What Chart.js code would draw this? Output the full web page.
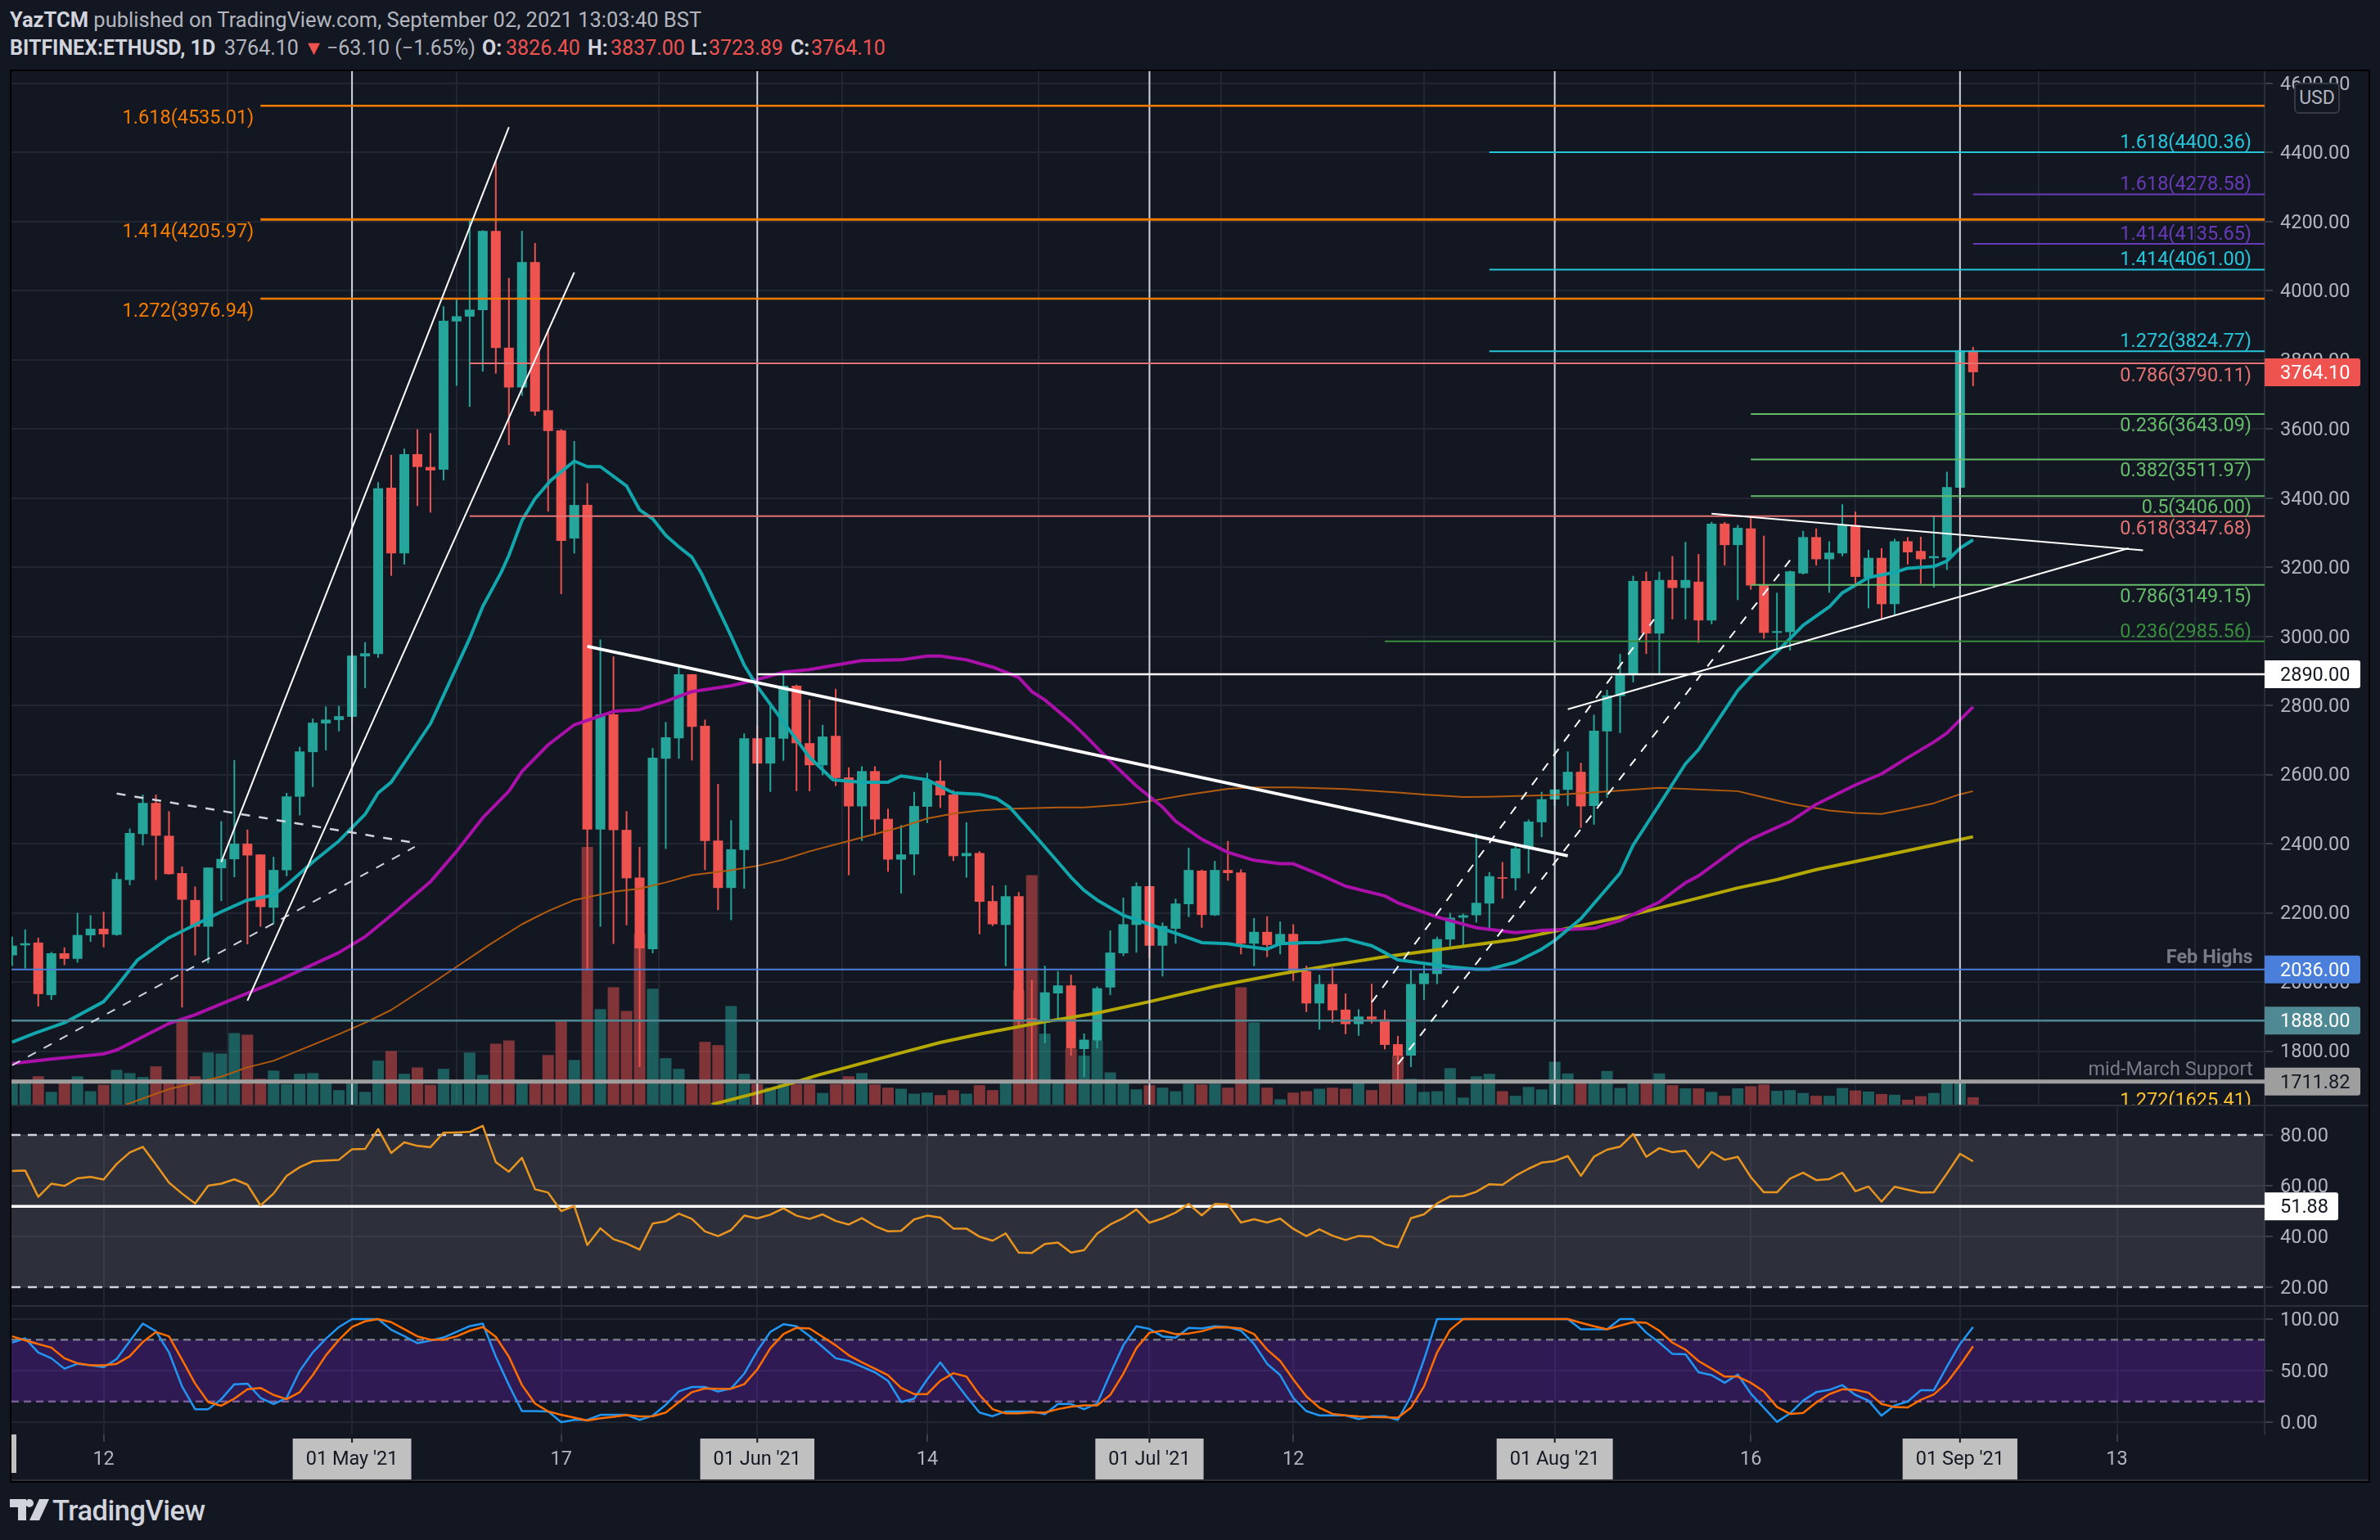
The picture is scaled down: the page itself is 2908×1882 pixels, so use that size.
<!DOCTYPE html>
<html>
<head>
<meta charset="utf-8">
<title>BITFINEX:ETHUSD, 1D</title>
<script src="https://cdn.jsdelivr.net/npm/chart.js@4/dist/chart.umd.min.js"></script>
<style>
  html, body { margin: 0; padding: 0; background: #131722; width: 2908px; height: 1882px; overflow: hidden; font-family: Roboto, sans-serif; }
  .hdr { position: absolute; left: 12px; white-space: pre; font-size: 25.5px; line-height: 30px; color: #b2b5be; }
  .hdr b { color: #d1d4dc; font-weight: 700; }
  .hdr i { color: #ef5350; font-style: normal; }
  .row2 { position: absolute; top: 44px; white-space: pre; font-size: 25px; line-height: 30px; color: #b2b5be; }
  .row2.bold { color: #d1d4dc; font-weight: 700; }
  .row2.down { color: #ef5350; }
  #frame { position: absolute; left: 12px; top: 85px; width: 2880px; height: 1723px; border: 2px solid #000; background: #2a2e39; }
  canvas { position: absolute; left: 14px; display: block; background: #131722; }
  #edgeTag { position: absolute; left: 14px; top: 1753px; width: 6px; height: 47px; background: #c0c0c0; }
  #brand { position: absolute; left: 64px; top: 1826px; font-size: 34.5px; line-height: 40px; color: #d1d4dc; font-weight: 500; letter-spacing: -0.5px; }
  #logo { position: absolute; left: 12px; top: 1832px; }
</style>
</head>
<body>
<div class="hdr" style="top:9px"><b>YazTCM</b> published on TradingView.com, September 02, 2021 13:03:40 BST</div>
<span class="row2 bold" style="left:12px">BITFINEX:ETHUSD, 1D</span>
<span class="row2" style="left:274px">3764.10</span>
<span class="row2 down" style="left:371px">▼</span>
<span class="row2" style="left:399px">−63.10 (−1.65%)</span>
<span class="row2 bold" style="left:589px">O:</span>
<span class="row2 down" style="left:618px">3826.40</span>
<span class="row2 bold" style="left:718px">H:</span>
<span class="row2 down" style="left:746px">3837.00</span>
<span class="row2 bold" style="left:844px">L:</span>
<span class="row2 down" style="left:866px">3723.89</span>
<span class="row2 bold" style="left:966px">C:</span>
<span class="row2 down" style="left:991px">3764.10</span>
<div id="frame"></div>
<canvas id="mainChart" width="2880" height="1263" style="top:87px"></canvas>
<canvas id="rsiChart" width="2880" height="243" style="top:1352px"></canvas>
<canvas id="stochChart" width="2880" height="211" style="top:1597px"></canvas>
<div id="edgeTag"></div>
<svg id="logo" width="48" height="26" viewBox="0 0 48 26"><path fill="#d1d4dc" d="M0 0h20v26H10V10H0zM24 0a5 5 0 1 1 0 10 5 5 0 0 1 0-10zM36 0h12L36 26H24z"/></svg>
<div id="brand">TradingView</div>

<script>
// Days are counted from 01 May 2021 (day 0). One candle per day, first candle is day -26
const firstDay = -26;
const opens = [
  2077, 2106, 2114, 1962, 2083, 2067, 2135, 2154, 2136, 2295, // -26
  2428, 2518, 2423, 2315, 2237, 2160, 2329, 2355, 2400, 2369, // -16
  2215, 2323, 2536, 2665, 2748, 2758, 2767, 2942, 2949, 3430, // -6
  3240, 3527, 3490, 3482, 3911, 3925, 3944, 4173, 3835, 3720, // 4
  4083, 3654, 3596, 3283, 3380, 2441, 2774, 2440, 2302, 2095, // 14
  2646, 2705, 2890, 2741, 2409, 2272, 2382, 2705, 2632, 2704, // 24
  2857, 2691, 2627, 2712, 2592, 2508, 2610, 2472, 2354, 2369, // 34
  2507, 2582, 2542, 2364, 2373, 2234, 2165, 2248, 1895, 1882, // 44
  1967, 1990, 1806, 1830, 1984, 2083, 2165, 2277, 2105, 2154, // 54
  2225, 2322, 2193, 2324, 2317, 2111, 2145, 2107, 2139, 2031, // 64
  1938, 1994, 1920, 1878, 1900, 1892, 1820, 1787, 1994, 2023, // 74
  2123, 2186, 2193, 2227, 2303, 2300, 2385, 2462, 2528, 2556, // 84
  2608, 2509, 2725, 2827, 2889, 3160, 3008, 3163, 3140, 3158, // 94
  3046, 3326, 3264, 3312, 3149, 3010, 3012, 3182, 3287, 3223, // 104
  3240, 3322, 3170, 3227, 3093, 3275, 3247, 3226, 3228, 3430, // 114
  3826.4 // 124
];
const highs = [
  2131, 2152, 2128, 2087, 2100, 2200, 2193, 2203, 2316, 2444,
  2542, 2542, 2494, 2334, 2276, 2331, 2465, 2642, 2441, 2369,
  2362, 2547, 2680, 2762, 2797, 2799, 2950, 2983, 3446, 3525,
  3543, 3599, 3588, 3955, 3976, 4206, 4175, 4375, 4037, 4173,
  4138, 3890, 3599, 3565, 3443, 2991, 2942, 2494, 2391, 2677,
  2752, 2911, 2891, 2759, 2573, 2468, 2719, 2740, 2809, 2888,
  2860, 2817, 2744, 2848, 2621, 2624, 2624, 2501, 2454, 2550,
  2605, 2641, 2555, 2462, 2378, 2279, 2280, 2260, 2006, 2047,
  2031, 2021, 1851, 1987, 2149, 2244, 2288, 2280, 2172, 2241,
  2388, 2325, 2350, 2408, 2326, 2185, 2190, 2175, 2167, 2047,
  2021, 2042, 1967, 1921, 1995, 1919, 1844, 2035, 2049, 2131,
  2200, 2198, 2429, 2318, 2347, 2393, 2470, 2550, 2698, 2667,
  2634, 2773, 2845, 2949, 3175, 3187, 3187, 3232, 3273, 3238,
  3331, 3331, 3322, 3347, 3291, 3126, 3190, 3305, 3312, 3275,
  3382, 3361, 3250, 3255, 3282, 3287, 3288, 3347, 3476, 3832,
  3837
];
const lows = [
  2046, 2039, 1929, 1948, 2049, 2056, 2116, 2100, 2134, 2280,
  2395, 2295, 2311, 1926, 2077, 2054, 2234, 2303, 2109, 2160,
  2167, 2306, 2482, 2564, 2670, 2725, 2752, 2850, 2938, 3175,
  3208, 3377, 3358, 3451, 3725, 3664, 3766, 3760, 3553, 3696,
  3638, 3361, 3122, 3240, 2033, 2160, 2110, 2164, 1754, 2083,
  2385, 2646, 2641, 2324, 2208, 2179, 2270, 2526, 2550, 2640,
  2552, 2552, 2598, 2567, 2309, 2408, 2424, 2319, 2256, 2309,
  2460, 2504, 2350, 2302, 2138, 2162, 2046, 1870, 1715, 1823,
  1890, 1787, 1725, 1808, 1962, 2075, 2085, 2069, 2016, 2111,
  2188, 2157, 2191, 2293, 2080, 2046, 2072, 2080, 2003, 1913,
  1862, 1882, 1849, 1844, 1880, 1805, 1715, 1754, 1948, 1994,
  2103, 2105, 2172, 2148, 2241, 2265, 2314, 2419, 2509, 2509,
  2446, 2455, 2533, 2720, 2867, 2949, 2890, 3049, 3049, 2981,
  3035, 3205, 3105, 3135, 2993, 2961, 2959, 3179, 3205, 3126,
  3232, 3152, 3081, 3052, 3061, 3208, 3152, 3141, 3192, 3385,
  3723.89
];
const closes = [
  2105, 2112, 1965, 2083, 2067, 2136, 2154, 2138, 2298, 2431,
  2518, 2423, 2312, 2238, 2160, 2331, 2356, 2400, 2366, 2217,
  2324, 2537, 2667, 2750, 2759, 2769, 2944, 2951, 3428, 3240,
  3527, 3490, 3480, 3913, 3926, 3945, 4173, 3834, 3720, 4083,
  3650, 3594, 3276, 3380, 2441, 2774, 2439, 2300, 2097, 2649,
  2708, 2890, 2738, 2408, 2272, 2384, 2705, 2632, 2708, 2857,
  2691, 2627, 2710, 2590, 2508, 2610, 2470, 2354, 2369, 2509,
  2583, 2540, 2364, 2373, 2232, 2167, 2248, 1885, 1880, 1970,
  1990, 1808, 1833, 1982, 2085, 2167, 2277, 2105, 2162, 2227,
  2324, 2194, 2324, 2315, 2111, 2145, 2107, 2139, 2028, 1938,
  1994, 1918, 1878, 1900, 1892, 1818, 1787, 1994, 2025, 2124,
  2186, 2193, 2229, 2306, 2299, 2386, 2464, 2529, 2557, 2608,
  2508, 2727, 2829, 2889, 3160, 3008, 3163, 3140, 3163, 3046,
  3326, 3264, 3314, 3147, 3010, 3015, 3188, 3287, 3223, 3242,
  3322, 3172, 3227, 3093, 3275, 3243, 3223, 3232, 3432, 3826,
  3764.1
];
const volumes = [
  60, 60, 80, 36, 60, 80, 38, 56, 98, 89,
  78, 108, 60, 240, 80, 147, 144, 202, 197, 73,
  96, 58, 87, 89, 60, 41, 62, 36, 124, 151,
  87, 105, 56, 101, 60, 147, 84, 172, 181, 60,
  60, 140, 240, 126, 726, 269, 331, 264, 482, 327,
  131, 101, 60, 177, 168, 278, 87, 58, 48, 58,
  58, 58, 33, 58, 80, 89, 57, 48, 45, 31,
  34, 27, 41, 31, 55, 41, 60, 323, 647, 200,
  60, 158, 138, 180, 91, 60, 43, 55, 48, 38,
  59, 57, 59, 48, 331, 232, 48, 15, 34, 38,
  45, 48, 45, 62, 41, 60, 140, 73, 36, 38,
  103, 20, 80, 87, 38, 25, 50, 43, 121, 88,
  63, 63, 95, 47, 63, 63, 88, 55, 46, 46,
  36, 25, 46, 52, 57, 39, 41, 33, 25, 25,
  47, 40, 37, 30, 28, 14, 24, 33, 63, 63,
  21
];

// Moving averages at these days
const ma20Days = [-26, -24.3, -22, -19, -18, -16.4, -14, -10, -8, -6, -5, -3, -1, 1, 2, 3, 6, 7, 9, 10, 11.4, 12, 13, 14, 15.2, 17, 18, 19, 21, 22, 23, 24, 25, 26, 26.7, 28.9, 30, 31, 33, 35, 36.8, 39, 41, 42, 44, 46, 48, 49.3, 50.3, 52, 54, 55, 56, 57, 59, 61, 63, 65, 67, 68, 70, 71, 73, 74, 76, 78, 79, 80, 82, 84, 86, 87, 89, 91, 92, 94, 97, 98, 100, 102, 103, 106, 107, 109, 111, 113, 114, 116, 118, 119, 121, 122, 123, 124];
const ma20Values = [1826, 1851, 1882, 1943, 1987, 2064, 2128, 2203, 2237, 2251, 2280, 2347, 2408, 2485, 2547, 2578, 2747, 2829, 2994, 3086, 3184, 3234, 3335, 3398, 3451, 3507, 3491, 3491, 3435, 3366, 3340, 3292, 3259, 3229, 3184, 3009, 2917, 2855, 2752, 2650, 2585, 2578, 2578, 2596, 2585, 2547, 2543, 2531, 2506, 2434, 2347, 2303, 2265, 2237, 2193, 2167, 2141, 2114, 2111, 2105, 2095, 2111, 2114, 2114, 2124, 2105, 2085, 2064, 2054, 2044, 2037, 2037, 2057, 2095, 2120, 2183, 2315, 2396, 2513, 2631, 2672, 2843, 2884, 2955, 3032, 3085, 3126, 3170, 3185, 3197, 3202, 3218, 3255, 3279];
const ma50Days = [-26, -23, -19, -18, -14, -12, -9.4, -6, -1, 1, 3, 6, 8, 10, 12, 13, 15, 17, 20, 22, 24, 26, 29, 31, 33, 35, 39, 42, 44, 45, 47, 49, 51, 52, 53, 55, 56, 58, 60, 62, 63, 65, 67, 69, 71, 72, 74, 76, 79, 80, 83, 86, 89, 91, 95, 97, 100, 102, 103, 106, 107, 110, 112, 115, 117, 119, 121, 122, 123, 124];
const ma50Values = [1764, 1777, 1792, 1803, 1880, 1905, 1946, 1998, 2085, 2131, 2193, 2290, 2378, 2475, 2552, 2609, 2686, 2744, 2783, 2788, 2812, 2840, 2857, 2875, 2896, 2904, 2930, 2932, 2943, 2943, 2932, 2911, 2881, 2840, 2816, 2752, 2716, 2639, 2567, 2506, 2465, 2413, 2375, 2352, 2342, 2342, 2311, 2277, 2249, 2229, 2188, 2157, 2143, 2149, 2155, 2178, 2231, 2287, 2307, 2390, 2413, 2464, 2514, 2570, 2602, 2649, 2694, 2720, 2758, 2796];
const ma100Days = [-17.3, -14, -10, -8, -6, -1, 1, 3, 6, 8, 10.4, 13, 15, 17, 20, 22, 24, 26, 29, 31, 33, 35, 39, 42, 44, 46, 48, 50, 54, 56, 59, 61, 64, 67, 69, 72, 76, 80, 82, 85, 87, 92, 96, 100, 106, 107, 110, 113, 115, 117, 119, 121, 123, 124];
const ma100Values = [1645, 1690, 1726, 1753, 1772, 1849, 1882, 1919, 1993, 2044, 2105, 2167, 2205, 2237, 2261, 2270, 2288, 2309, 2323, 2336, 2354, 2378, 2418, 2448, 2473, 2487, 2496, 2501, 2505, 2505, 2513, 2523, 2542, 2559, 2563, 2563, 2558, 2548, 2542, 2535, 2536, 2541, 2551, 2562, 2552, 2543, 2516, 2496, 2489, 2486, 2501, 2517, 2543, 2552];
const ma200Days = [27.5, 31, 33.7, 35.7, 42, 45, 48, 53, 57, 61, 66, 71, 75, 79, 83, 89, 93, 98, 103, 106, 109, 112, 117, 121, 124];
const ma200Values = [1645, 1679, 1708, 1731, 1795, 1825, 1849, 1885, 1910, 1943, 1987, 2023, 2049, 2073, 2093, 2123, 2155, 2195, 2243, 2272, 2296, 2325, 2364, 2396, 2420];

const rsiValues = [
  65.8, 66, 55.6, 60.8, 59.9, 62.9, 63.5, 62.4, 68.6, 73.1,
  75.3, 68.4, 61.2, 56.9, 53, 60, 60.8, 62.5, 60.4, 52.2,
  56.9, 63.9, 67.3, 69.6, 69.9, 70.2, 74.4, 74.5, 82.3, 72.9,
  77.1, 75.7, 75.2, 80.9, 81, 81.2, 83.6, 69.3, 65.5, 71,
  58.6, 57.3, 50, 52, 36.6, 43.2, 38.9, 37.2, 34.8, 45.1,
  46, 49, 46.9, 42, 40.1, 42.5, 48.2, 47.1, 48.6, 51.1,
  48.2, 46.9, 48.7, 46.1, 44.7, 47.2, 44.1, 42, 42.2, 46.7,
  48.2, 47.4, 43.1, 43.1, 39.9, 38.3, 41.2, 33.6, 33.5, 37,
  37.6, 33.6, 34.6, 41.1, 44.7, 47.2, 50.6, 45.4, 47.1, 49.4,
  52.8, 48.3, 52.8, 52.6, 45.5, 46.8, 45.5, 47, 43, 40.1,
  42.8, 40.3, 38.6, 40.2, 39.9, 36.9, 35.7, 47.2, 48.7, 53,
  55.8, 55.9, 57.6, 60.6, 60.3, 63.9, 66.7, 69.1, 69.7, 71.7,
  63.9, 71.4, 74.2, 75.4, 80.4, 71.4, 74.8, 73.2, 73.8, 67.1,
  73.3, 70.2, 71.4, 63.4, 57.4, 57.4, 62.8, 65.1, 62.2, 62.6,
  65.1, 57.8, 59.7, 53.7, 59.6, 58.4, 57.3, 57.4, 64.8, 72.6,
  69.6
];
const stochK = [
  77.2, 81.3, 67.6, 62, 51.9, 56.6, 55.2, 53.3, 61.3, 78.6,
  95.6, 88.2, 67.6, 34.6, 12.6, 12.6, 22.3, 36.8, 37.4, 23.6,
  17.6, 23.6, 49.7, 67.6, 80.8, 92.3, 100, 100, 100, 89.6,
  83.5, 76.6, 79.1, 82.1, 87.6, 93.1, 95.6, 63.5, 36, 10.7,
  10.7, 10.4, 0, 2.2, 2.2, 7.1, 7.1, 7.1, 2.2, 6.3,
  16.8, 29.9, 34.1, 34.1, 29.7, 32.7, 47, 69, 87.6, 95,
  93.1, 83.5, 73, 62, 59.3, 53.8, 48.4, 40.1, 19.5, 22.8,
  41.5, 58, 41.5, 25, 9.3, 5.8, 10.4, 10.4, 10.4, 7.7,
  17.6, 17.6, 12.6, 18.1, 47, 74.5, 93.1, 90.4, 83.2, 81.9,
  91.5, 90.9, 93.1, 92.3, 88.7, 75.8, 56.6, 45.6, 23.6, 10.7,
  6.6, 6.6, 6.6, 3, 5.8, 5.8, 2.2, 25, 60.7, 100,
  100, 100, 100, 100, 100, 100, 100, 100, 100, 100,
  90.1, 90.1, 90.1, 100, 100, 86.8, 77.2, 66.2, 65.9, 48.4,
  45.6, 38.2, 46.2, 27.7, 14, 0.3, 8.5, 20.9, 29.1, 31.3,
  36, 26.4, 20.9, 6.3, 16.2, 20, 31, 31, 53.8, 75.8,
  92.3
];
const stochD = [
  83.2, 79.4, 75.8, 72.3, 62, 57.1, 55.2, 55.2, 56.6, 64,
  77.7, 87.4, 83.2, 60.7, 37.4, 19.5, 15.9, 22.8, 31.9, 33.2,
  26.4, 22.3, 29.1, 45.6, 64.8, 79.9, 92.3, 97.8, 100, 97,
  90.1, 83.2, 79.9, 79.9, 83.2, 88.7, 92.3, 82.7, 63.5, 36,
  18.1, 10.4, 7.1, 4.4, 1.6, 3.8, 5.2, 6.9, 5.5, 5.8,
  9.3, 19.5, 29.1, 32.7, 32.4, 32.4, 36.8, 51.1, 71.7, 85.4,
  91.5, 90.9, 82.7, 74.5, 64.8, 58, 51.9, 45.6, 33.2, 27.2,
  27.2, 40.1, 47.5, 44.2, 26.4, 12.6, 8.5, 8.5, 9.6, 9.3,
  12.6, 15.1, 16.2, 16.2, 26.4, 47, 71.7, 86.8, 88.7, 85.4,
  86, 88.2, 91.8, 92, 90.9, 85.4, 70.3, 59.3, 41.5, 25,
  14, 8, 6.6, 5.5, 4.9, 4.7, 4.4, 14, 34.6, 67.6,
  89.6, 100, 100, 100, 100, 100, 100, 100, 100, 100,
  96.4, 93.1, 90.1, 93.7, 97, 96.4, 88.7, 77.2, 70.3, 59.3,
  51.9, 44.2, 44.2, 38.2, 29.7, 14.8, 8, 9, 19, 27.2,
  31.9, 31.3, 28.6, 17.6, 14.6, 14.3, 21.7, 26.9, 38.2, 55.2,
  73.6
];

// Axis labels
const priceTicks = [1800, 2000, 2200, 2400, 2600, 2800, 3000, 3200, 3400, 3600, 3800, 4000, 4200, 4400, 4600];
const rsiTicks = [20, 40, 60, 80];
const stochTicks = [0, 50, 100];
const dateTickDays = [-19, 0, 16, 31, 44, 61, 72, 92, 107, 123, 135];
const dateTickLabels = ['12', "01 May '21", '17', "01 Jun '21", '14', "01 Jul '21", '12', "01 Aug '21", '16', "01 Sep '21", '13'];
const monthDays = [0, 31, 61, 92, 123];

// Fib levels
const fibOrangeRatios = ['1.618', '1.414', '1.272'];
const fibOrangePrices = [4535.01, 4205.97, 3976.94];
const fibCyanRatios = ['1.618', '1.414', '1.272'];
const fibCyanPrices = [4400.36, 4061.00, 3824.77];
const fibPurpleRatios = ['1.618', '1.414'];
const fibPurplePrices = [4278.58, 4135.65];
const fibSalmonRatios = ['0.786', '0.618'];
const fibSalmonPrices = [3790.11, 3347.68];
const fibGreenRatios = ['0.236', '0.382', '0.5', '0.786'];
const fibGreenPrices = [3643.09, 3511.97, 3406.00, 3149.15];
const fibDarkRatios = ['0.236'];
const fibDarkPrices = [2985.56];

// Trend lines drawn on the chart: [day, day] and [price, price]
const channelUpperDays = [-10, 12], channelUpperPrices = [2347, 4473];
const channelLowerDays = [-8, 17], channelLowerPrices = [1946, 4053];
const wedgeTopDays = [-18, 4.7], wedgeTopPrices = [2545, 2403];
const wedgeBottomDays = [-26, 4.8], wedgeBottomPrices = [1759, 2391];
const fallingDays = [18, 93], fallingPrices = [2971, 2365];
const dashUpperDays = [78, 99.6], dashUpperPrices = [1941, 3049];
const dashLowerDays = [80, 110], dashLowerPrices = [1762, 3220];
const supportDays = [93, 135.9], supportPrices = [2789, 3255];
const resistanceDays = [104, 137], resistancePrices = [3355, 3249];

const levelWhite = 2890, levelBlue = 2036, levelTeal = 1888, levelGray = 1711.82;
const rsiLevel = 51.88;

// Scale limits and colours
const xMin = -26.05, xMax = 146.3;
const UP = '#26a69a', DOWN = '#ef5350';
const UP_VOL = 'rgba(38,166,154,0.5)', DOWN_VOL = 'rgba(239,83,80,0.5)';
const GRID = '#222632', AXIS = '#2a2e39', TICK_TEXT = '#b2b5be';
const FONT = 'Roboto, sans-serif';
const TICK_FONT = { family: FONT, size: 23.5 };

const dayList = closes.map((c, i) => firstDay + i);

function zip(days, values) {
  return days.map((d, i) => ({ x: d, y: values[i] }));
}

function lineSet(days, values, color, width, order, dash) {
  return {
    type: 'line', data: zip(days, values), borderColor: color, borderWidth: width, order: order,
    borderDash: dash || [], pointRadius: 0, tension: 0, fill: false, yAxisID: 'y', borderJoinStyle: 'round'
  };
}

function levelSet(value, startDay, color, width, order) {
  return lineSet([startDay, xMax], [value, value], color, width, order);
}

function labelsFor(ratios, prices, color, anchorDay, dy) {
  return ratios.map((r, i) => ({
    text: r + '(' + prices[i].toFixed(2) + ')', price: prices[i], day: anchorDay, dy: dy, color: color
  }));
}

// Text sitting on the price chart (fib labels and level notes)
const chartLabels = [
  ...labelsFor(fibOrangeRatios, fibOrangePrices, '#f57c00', -7.5, 16),
  ...labelsFor(fibCyanRatios, fibCyanPrices, '#26c6da', 145.3, -11),
  ...labelsFor(fibPurpleRatios, fibPurplePrices, '#673ab7', 145.3, -11),
  ...labelsFor(fibSalmonRatios, fibSalmonPrices, '#e57373', 145.3, 16),
  ...labelsFor(fibGreenRatios, fibGreenPrices, '#66bb6a', 145.3, 15),
  ...labelsFor(fibDarkRatios, fibDarkPrices, '#388e3c', 145.3, -11),
  { text: '1.272(1625.41)', price: 1625.41, day: 145.3, dy: -12, color: '#fbc02d' },
  { text: 'Feb Highs', price: levelBlue, day: 145.4, dy: -14, color: '#787b86', bold: true },
  { text: 'mid-March Support', price: levelGray, day: 145.4, dy: -14, color: '#787b86' }
];

// Coloured value tags on the price axis
const priceTags = [
  { text: '3764.10', value: closes[closes.length - 1], bg: '#ef5350', fg: '#ffffff', right: 2870 },
  { text: '2890.00', value: levelWhite, bg: '#ffffff', fg: '#131722', right: 2870 },
  { text: '2036.00', value: levelBlue, bg: '#4a7fdb', fg: '#ffffff', right: 2870 },
  { text: '1888.00', value: levelTeal, bg: '#4f8a94', fg: '#ffffff', right: 2870 },
  { text: '1711.82', value: levelGray, bg: '#9e9e9e', fg: '#131722', right: 2870 }
];
const rsiTags = [{ text: '51.88', value: rsiLevel, bg: '#ffffff', fg: '#131722', right: 2843 }];

const chartLabelsPlugin = {
  id: 'chartLabels',
  afterDatasetsDraw(chart) {
    const { ctx, chartArea, scales } = chart;
    ctx.save();
    ctx.beginPath();
    ctx.rect(chartArea.left, chartArea.top, chartArea.width, chartArea.height);
    ctx.clip();
    ctx.textAlign = 'right';
    ctx.textBaseline = 'middle';
    chartLabels.forEach(l => {
      ctx.font = (l.bold ? '700 ' : '') + '23.5px ' + FONT;
      ctx.fillStyle = l.color;
      ctx.fillText(l.text, scales.x.getPixelForValue(l.day), scales.y.getPixelForValue(l.price) + l.dy);
    });
    ctx.restore();
  }
};

const tagsPlugin = {
  id: 'axisTags',
  afterDraw(chart, args, opts) {
    const { ctx, scales } = chart;
    (opts.items || []).forEach(t => {
      const y = scales.y.getPixelForValue(t.value);
      const left = scales.y.left;
      ctx.fillStyle = t.bg;
      ctx.beginPath();
      ctx.roundRect(left, y - 17, t.right - left, 34, [0, 3, 3, 0]);
      ctx.fill();
      ctx.font = '23.5px ' + FONT;
      ctx.fillStyle = t.fg;
      ctx.textAlign = 'left';
      ctx.textBaseline = 'middle';
      ctx.fillText(t.text, left + 19, y + 2);
    });
  }
};

// Short dark tick on top of the grey month tags
const monthTickPlugin = {
  id: 'monthTicks',
  afterDraw(chart) {
    if (!chart.options.plugins.monthTicks.on) return;
    const { ctx, scales, chartArea } = chart;
    ctx.fillStyle = '#131722';
    monthDays.forEach(d => {
      ctx.fillRect(scales.x.getPixelForValue(d) - 1, chartArea.bottom, 2, 10);
    });
  }
};

function xScale(showLabels) {
  return {
    type: 'linear', min: xMin, max: xMax, offset: false,
    afterBuildTicks: s => { s.ticks = dateTickDays.map(v => ({ value: v })); },
    afterFit: s => {
      s.height = showLabels ? 55 : 0;
      s.paddingLeft = 0;
      s.paddingRight = 0;
    },
    border: { display: false },
    grid: { color: GRID, lineWidth: 2, drawTicks: showLabels, tickLength: 9, tickColor: '#3a3e4a' },
    ticks: showLabels ? {
      autoSkip: false, maxRotation: 0, padding: 8, font: TICK_FONT,
      callback: v => dateTickLabels[dateTickDays.indexOf(v)],
      color: c => monthDays.includes(c.tick.value) ? '#131722' : TICK_TEXT,
      showLabelBackdrop: c => monthDays.includes(c.tick.value),
      backdropColor: '#c0c0c0',
      backdropPadding: { x: 16, y: 12 }
    } : { display: false }
  };
}

function yScale(min, max, tickValues, digits) {
  return {
    position: 'right', min: min, max: max,
    afterBuildTicks: s => { s.ticks = tickValues.map(v => ({ value: v })); },
    afterFit: s => {
      s.width = 127;
      // keep the plot area flush with the pane, tick labels may overhang
      s.paddingTop = 0;
      s.paddingBottom = 0;
    },
    border: { color: AXIS, width: 2 },
    grid: { color: GRID, lineWidth: 2, tickLength: 10, tickColor: '#3a3e4a' },
    ticks: { color: TICK_TEXT, font: TICK_FONT, padding: 9, labelOffset: 2, callback: v => v.toFixed(digits) }
  };
}

function baseOptions(extraScales, pluginOpts) {
  return {
    responsive: false, animation: false, devicePixelRatio: 1,
    layout: { padding: 0 },
    events: [],
    scales: extraScales,
    plugins: Object.assign({ legend: { display: false }, tooltip: { enabled: false } }, pluginOpts)
  };
}

// Price pane
const priceDatasets = [
  {
    type: 'bar', yAxisID: 'yVol', order: 50, grouped: false, barThickness: 14, inflateAmount: 0,
    data: zip(dayList, volumes),
    backgroundColor: closes.map((c, i) => c >= opens[i] ? UP_VOL : DOWN_VOL)
  },
  {
    type: 'bar', yAxisID: 'y', order: 40, grouped: false, barThickness: 2, inflateAmount: 0,
    data: dayList.map((d, i) => ({ x: d, y: [lows[i], highs[i]] })),
    backgroundColor: closes.map((c, i) => c >= opens[i] ? UP : DOWN)
  },
  {
    type: 'bar', yAxisID: 'y', order: 30, grouped: false, barThickness: 12, inflateAmount: 0,
    data: dayList.map((d, i) => ({ x: d, y: [opens[i], closes[i]] })),
    backgroundColor: closes.map((c, i) => c >= opens[i] ? UP : DOWN)
  },
  lineSet(ma100Days, ma100Values, '#b35a0f', 2, 22),
  lineSet(ma200Days, ma200Values, '#b5a800', 4, 21),
  lineSet(ma50Days, ma50Values, '#ab10ab', 4, 20),
  lineSet(ma20Days, ma20Values, '#12a7ac', 4, 19),
  ...monthDays.map(d => lineSet([d, d], [1645, 4635], '#d1d4dc', 2, 12)),
  levelSet(levelBlue, xMin, '#4a7fdb', 2, 11),
  levelSet(levelTeal, xMin, '#4f8a94', 2.5, 11),
  levelSet(levelGray, xMin, '#9e9e9e', 5, 11),
  levelSet(levelWhite, 31, '#ffffff', 2.5, 11),
  ...fibOrangePrices.map((p, i) => levelSet(p, -7, '#f57c00', i === 1 ? 3 : 2.5, 10)),
  ...fibCyanPrices.map(p => levelSet(p, 87, '#26c6da', 2, 10)),
  ...fibPurplePrices.map(p => levelSet(p, 124, '#673ab7', 2, 10)),
  ...fibSalmonPrices.map(p => levelSet(p, 9, '#e57373', 2, 10)),
  ...fibGreenPrices.map(p => levelSet(p, 107, '#66bb6a', 2, 10)),
  ...fibDarkPrices.map(p => levelSet(p, 79, '#388e3c', 2, 10)),
  lineSet(channelUpperDays, channelUpperPrices, '#ffffff', 2, 9),
  lineSet(channelLowerDays, channelLowerPrices, '#ffffff', 2, 9),
  lineSet(wedgeTopDays, wedgeTopPrices, '#d1d4dc', 2.5, 9, [11, 11]),
  lineSet(wedgeBottomDays, wedgeBottomPrices, '#d1d4dc', 2, 9, [11, 11]),
  lineSet(fallingDays, fallingPrices, '#ffffff', 4, 9),
  lineSet(dashUpperDays, dashUpperPrices, '#ffffff', 2, 9, [11, 11]),
  lineSet(dashLowerDays, dashLowerPrices, '#ffffff', 2, 9, [11, 11]),
  lineSet(supportDays, supportPrices, '#ffffff', 2, 9),
  lineSet(resistanceDays, resistancePrices, '#ffffff', 2, 9)
];

new Chart(document.getElementById('mainChart'), {
  type: 'bar',
  data: { datasets: priceDatasets },
  plugins: [chartLabelsPlugin, tagsPlugin, monthTickPlugin],
  options: baseOptions({
    x: xScale(false),
    y: yScale(1645, 4635, priceTicks, 2),
    yVol: { display: false, min: 0, max: 2912 }
  }, { axisTags: { items: priceTags }, monthTicks: { on: false } })
});

// RSI pane
new Chart(document.getElementById('rsiChart'), {
  type: 'line',
  data: {
    datasets: [
      Object.assign(lineSet([xMin, xMax], [80, 80], 'rgba(0,0,0,0)', 0, 9), { fill: { value: 20 }, backgroundColor: 'rgba(149,152,161,0.2)' }),
      lineSet([xMin, xMax], [80, 80], '#d1d4dc', 2.5, 5, [11, 9]),
      lineSet([xMin, xMax], [20, 20], '#d1d4dc', 2.5, 5, [11, 9]),
      lineSet([xMin, xMax], [rsiLevel, rsiLevel], '#ffffff', 3.5, 4),
      lineSet(dayList, rsiValues, '#e8941f', 2.5, 2)
    ]
  },
  plugins: [tagsPlugin, monthTickPlugin],
  options: baseOptions({
    x: xScale(false),
    y: yScale(12.9, 91.3, rsiTicks, 2)
  }, { axisTags: { items: rsiTags }, monthTicks: { on: false } })
});

// Stochastic RSI pane, it also carries the date axis
new Chart(document.getElementById('stochChart'), {
  type: 'line',
  data: {
    datasets: [
      Object.assign(lineSet([xMin, xMax], [80, 80], 'rgba(0,0,0,0)', 0, 9), { fill: { value: 20 }, backgroundColor: 'rgba(131,35,234,0.25)' }),
      lineSet([xMin, xMax], [80, 80], '#787b86', 2.5, 5, [9, 6]),
      lineSet([xMin, xMax], [20, 20], '#7a5c99', 2.5, 5, [9, 6]),
      lineSet(dayList, stochK, '#2196f3', 2.5, 3),
      lineSet(dayList, stochD, '#ff6d00', 2.5, 2)
    ]
  },
  plugins: [monthTickPlugin],
  options: baseOptions({
    x: xScale(true),
    y: yScale(-11.9, 111.9, stochTicks, 2)
  }, { monthTicks: { on: true } })
});
</script>
<div style="position:absolute;left:2803px;top:101px;width:52px;height:34px;border:2px solid #363a45;border-radius:6px;background:#131722;color:#b2b5be;font-size:23px;line-height:34px;text-align:center">USD</div>
</body>
</html>
